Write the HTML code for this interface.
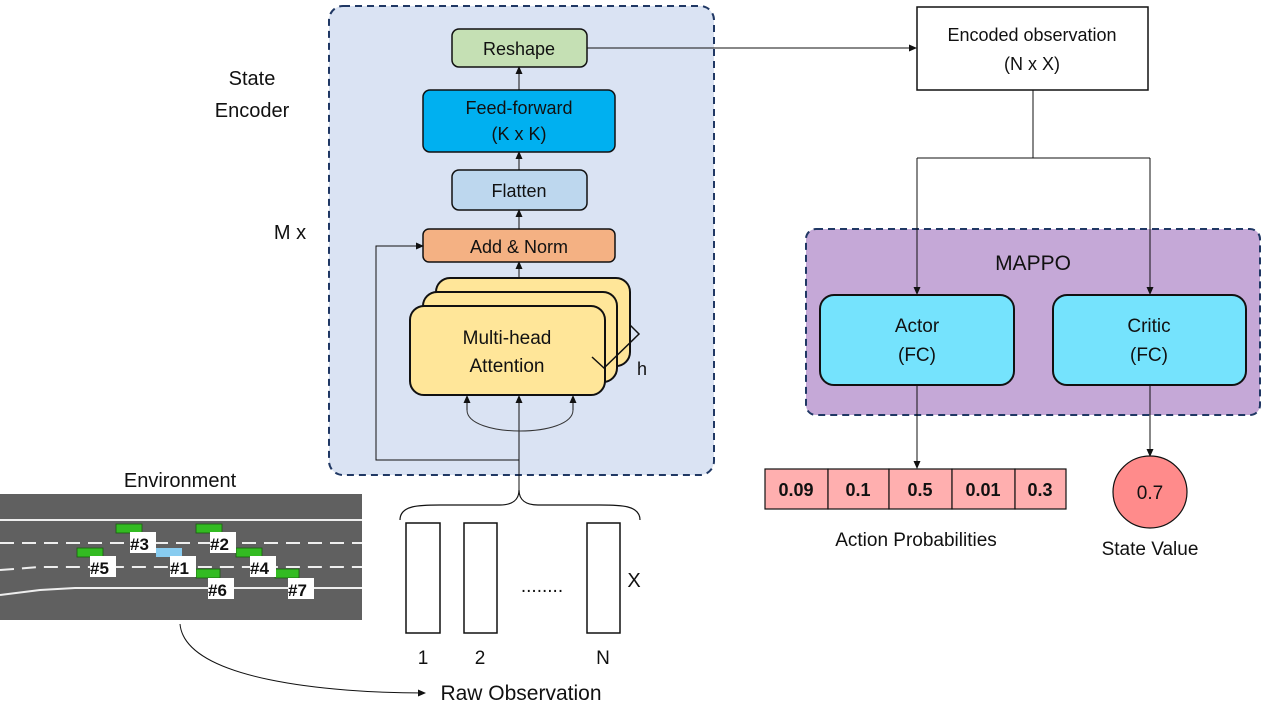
<!DOCTYPE html>
<html><head><meta charset="utf-8"><style>
html,body{margin:0;padding:0;background:#fff;}
svg{display:block;}
text{font-family:"Liberation Sans",sans-serif;fill:#111;}
</style></head><body>
<svg width="1280" height="720" viewBox="0 0 1280 720" xmlns="http://www.w3.org/2000/svg">
<defs>
<marker id="a" markerWidth="8" markerHeight="8" refX="7" refY="4" orient="auto" markerUnits="userSpaceOnUse"><path d="M0,0.5 L8,4 L0,7.5z" fill="#111"/></marker>
</defs>
<rect x="329" y="6" width="385" height="469" rx="14" fill="#dae3f3" stroke="#203864" stroke-width="2" stroke-dasharray="7,5"/>
<text x="252" y="85" font-size="20" text-anchor="middle">State</text>
<text x="252" y="117" font-size="20" text-anchor="middle">Encoder</text>
<text x="290" y="239" font-size="20" text-anchor="middle">M x</text>

<rect x="452" y="29" width="135" height="38" rx="7" fill="#c5e0b4" stroke="#111" stroke-width="1.5"/>
<text x="519" y="55" font-size="18" text-anchor="middle">Reshape</text>
<rect x="423" y="90" width="192" height="62" rx="7" fill="#00b0f0" stroke="#111" stroke-width="1.5"/>
<text x="519" y="114" font-size="18" text-anchor="middle">Feed-forward</text>
<text x="519" y="140" font-size="18" text-anchor="middle">(K x K)</text>
<rect x="452" y="170" width="135" height="40" rx="7" fill="#bdd7ee" stroke="#111" stroke-width="1.5"/>
<text x="519" y="197" font-size="18" text-anchor="middle">Flatten</text>
<rect x="423" y="229" width="192" height="33" rx="6" fill="#f4b183" stroke="#111" stroke-width="1.5"/>
<text x="519" y="253" font-size="18" text-anchor="middle">Add &amp; Norm</text>

<path d="M519,90 v-23" stroke="#111" marker-end="url(#a)"/>
<path d="M519,170 v-18" stroke="#111" marker-end="url(#a)"/>
<path d="M519,229 v-19" stroke="#111" marker-end="url(#a)"/>
<path d="M519,278 v-16" stroke="#111" marker-end="url(#a)"/>

<rect x="436" y="278" width="194" height="88" rx="14" fill="#ffe699" stroke="#111" stroke-width="2"/>
<rect x="423" y="292" width="194" height="90" rx="14" fill="#ffe699" stroke="#111" stroke-width="2"/>
<rect x="410" y="306" width="195" height="89" rx="14" fill="#ffe699" stroke="#111" stroke-width="2"/>
<path d="M592,357 L604,368 L639,334 L630,325" fill="none" stroke="#111" stroke-width="1.5"/>
<text x="507" y="344" font-size="19" text-anchor="middle">Multi-head</text>
<text x="507" y="372" font-size="19" text-anchor="middle">Attention</text>
<text x="642" y="375" font-size="18" text-anchor="middle">h</text>

<path d="M519,490 V396" stroke="#111" marker-end="url(#a)"/>
<path d="M467,410 V396" stroke="#111" marker-end="url(#a)"/>
<path d="M573,410 V396" stroke="#111" marker-end="url(#a)"/>
<path d="M467,410 C467,438 573,438 573,410" fill="none" stroke="#333"/>
<path d="M519,460 H376 V246 H423" fill="none" stroke="#111" marker-end="url(#a)"/>

<path d="M587,48 H916" stroke="#111" marker-end="url(#a)"/>
<rect x="917" y="7" width="231" height="83" fill="#fff" stroke="#111" stroke-width="1.5"/>
<text x="1032" y="41" font-size="18" text-anchor="middle">Encoded observation</text>
<text x="1032" y="70" font-size="18" text-anchor="middle">(N x X)</text>
<path d="M1033,90 V158 M917,158 H1150" stroke="#111" fill="none"/>

<rect x="806" y="229" width="454" height="186" rx="10" fill="#c5a8d7" stroke="#203864" stroke-width="2" stroke-dasharray="7,5"/>
<text x="1033" y="270" font-size="21" text-anchor="middle">MAPPO</text>
<path d="M917,158 V294" stroke="#111" marker-end="url(#a)"/>
<path d="M1150,158 V294" stroke="#111" marker-end="url(#a)"/>
<rect x="820" y="295" width="194" height="90" rx="14" fill="#75e3fd" stroke="#111" stroke-width="2"/>
<rect x="1053" y="295" width="193" height="90" rx="14" fill="#75e3fd" stroke="#111" stroke-width="2"/>
<text x="917" y="332" font-size="19" text-anchor="middle">Actor</text>
<text x="917" y="361" font-size="19" text-anchor="middle">(FC)</text>
<text x="1149" y="332" font-size="19" text-anchor="middle">Critic</text>
<text x="1149" y="361" font-size="19" text-anchor="middle">(FC)</text>
<path d="M917,385 V468" stroke="#111" marker-end="url(#a)"/>
<path d="M1150,385 V456" stroke="#111" marker-end="url(#a)"/>

<g stroke="#111" stroke-width="1.2" fill="#ffafaf">
<rect x="765" y="469" width="63" height="40"/><rect x="828" y="469" width="61" height="40"/><rect x="889" y="469" width="63" height="40"/><rect x="952" y="469" width="63" height="40"/><rect x="1015" y="469" width="51" height="40"/>
</g>
<g font-size="18" font-weight="bold" text-anchor="middle">
<text x="796" y="496">0.09</text><text x="858" y="496">0.1</text><text x="920" y="496">0.5</text><text x="983" y="496">0.01</text><text x="1040" y="496">0.3</text>
</g>
<text x="916" y="546" font-size="19" text-anchor="middle">Action Probabilities</text>
<ellipse cx="1150" cy="492" rx="37" ry="36" fill="#ff8b8b" stroke="#111" stroke-width="1.2"/>
<text x="1150" y="499" font-size="19" text-anchor="middle">0.7</text>
<text x="1150" y="555" font-size="19" text-anchor="middle">State Value</text>

<text x="180" y="487" font-size="20" text-anchor="middle">Environment</text>
<rect x="0" y="494" width="362" height="126" fill="#606060"/>
<g stroke="#eee" stroke-width="2" fill="none">
<line x1="0" y1="520" x2="362" y2="520"/>
<line x1="0" y1="543" x2="362" y2="543" stroke-dasharray="14,8"/>
<path d="M0,570 L40,567 H362" stroke-dasharray="14,8"/>
<path d="M0,595 L40,590 L75,588 H362"/>
</g>
<g fill="#33bb22" stroke="#1a5a10" stroke-width="0.8">
<rect x="116" y="524" width="26" height="9"/><rect x="196" y="524" width="26" height="9"/><rect x="77" y="548" width="26" height="9"/><rect x="236" y="548" width="26" height="9"/><rect x="196" y="569" width="24" height="9"/><rect x="275" y="569" width="24" height="9"/>
</g>
<rect x="156" y="548" width="26" height="9" fill="#88ccf0"/>
<g font-size="17" font-weight="bold">
<rect x="130" y="532" width="26" height="21" fill="#fff"/><text x="130" y="550">#3</text>
<rect x="210" y="532" width="26" height="21" fill="#fff"/><text x="210" y="550">#2</text>
<rect x="90" y="556" width="26" height="21" fill="#fff"/><text x="90" y="574">#5</text>
<rect x="170" y="556" width="26" height="21" fill="#fff"/><text x="170" y="574">#1</text>
<rect x="250" y="556" width="26" height="21" fill="#fff"/><text x="250" y="574">#4</text>
<rect x="208" y="578" width="26" height="21" fill="#fff"/><text x="208" y="596">#6</text>
<rect x="288" y="578" width="26" height="21" fill="#fff"/><text x="288" y="596">#7</text>
</g>
<path d="M180,624 C185,680 330,693 425,693" fill="none" stroke="#111" marker-end="url(#a)"/>
<text x="521" y="700" font-size="21" text-anchor="middle">Raw Observation</text>

<path d="M400,520 C400,505 420,505 440,505 H500 C512,505 519,500 519,490 C519,500 526,505 538,505 H600 C620,505 640,505 640,520" fill="none" stroke="#111" stroke-width="1.2"/>
<g fill="#fff" stroke="#111" stroke-width="1.5">
<rect x="406" y="523" width="34" height="110"/><rect x="464" y="523" width="33" height="110"/><rect x="587" y="523" width="33" height="110"/>
</g>
<text x="542" y="592" font-size="19" text-anchor="middle">........</text>
<text x="634" y="587" font-size="20" text-anchor="middle">X</text>
<text x="423" y="664" font-size="19" text-anchor="middle">1</text>
<text x="480" y="664" font-size="19" text-anchor="middle">2</text>
<text x="603" y="664" font-size="19" text-anchor="middle">N</text>
</svg>
</body></html>
